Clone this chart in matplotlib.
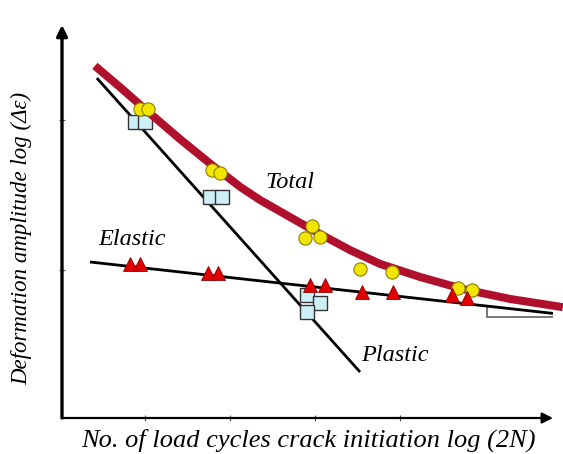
import matplotlib
matplotlib.use("Agg")
import matplotlib.pyplot as plt
from matplotlib.patches import Polygon

# Total strain curve (schematic, log-log units)
total_x = [0.67, 1.18, 1.69, 2.40, 3.08, 3.63, 4.03, 5.11, 5.87, 6.48, 7.29, 8.17, 9.12, 10.20]
total_y = [8.96, 8.42, 7.86, 7.10, 6.41, 5.88, 5.55, 4.78, 4.27, 3.92, 3.59, 3.28, 3.03, 2.82]

# Plastic and elastic straight lines (end points)
plastic_x = [0.71, 6.07]
plastic_y = [8.65, 1.17]
elastic_x = [0.57, 10.08]
elastic_y = [3.97, 2.65]

# Measured points
tot_pts_x = [1.59, 1.75, 3.05, 3.22, 5.09, 4.95, 5.25, 6.07, 6.72, 8.07, 8.35]
tot_pts_y = [7.86, 7.86, 6.31, 6.23, 4.89, 4.58, 4.61, 3.79, 3.72, 3.31, 3.26]
ela_pts_x = [1.38, 1.59, 2.97, 3.18, 5.05, 5.36, 6.11, 6.74, 7.94, 8.25]
ela_pts_y = [3.92, 3.92, 3.69, 3.69, 3.38, 3.38, 3.21, 3.21, 3.13, 3.05]
pla_pts_x = [1.49, 1.69, 3.01, 3.26, 4.99, 5.25, 4.99]
pla_pts_y = [7.53, 7.53, 5.62, 5.62, 3.13, 2.93, 2.70]

# Slope triangle under elastic line
tri_x = [8.66, 8.66, 10.08, 10.08]
tri_y = [2.85, 2.57, 2.57, 2.65]

xticks = [1.69, 3.42, 5.15, 6.88]
yticks = [3.77, 7.58]

labels = {"Total": (4.64, 5.98), "Elastic": (1.43, 4.53), "Plastic": (6.78, 1.60)}
xlabel = "No. of load cycles crack initiation log (2N)"
ylabel = "Deformation amplitude log (Δε)"

fig = plt.figure(figsize=(5.63, 4.54), dpi=100)
ax = fig.add_axes([62/563, 36/454, 491/563, 393/454])
ax.set_xlim(0, 10)
ax.set_ylim(0, 10)
for s in ax.spines.values():
    s.set_visible(False)

font = dict(family=["Liberation Serif", "DejaVu Serif"], style="italic")

# axes with arrows
ax.annotate("", xy=(1.0, 0), xytext=(0, 0), xycoords="axes fraction",
            arrowprops=dict(arrowstyle="-|>", lw=1.6, color="black", mutation_scale=16,
                            shrinkA=0, shrinkB=0))
ax.annotate("", xy=(0, 1.0), xytext=(0, 0), xycoords="axes fraction",
            arrowprops=dict(arrowstyle="-|>", lw=2.4, color="black", mutation_scale=16,
                            shrinkA=0, shrinkB=0))

ax.set_xticks(xticks)
ax.set_yticks(yticks)
ax.set_xticklabels([])
ax.set_yticklabels([])
ax.tick_params(axis="both", direction="inout", length=4, width=0.8, color="#555555")

ax.plot(plastic_x, plastic_y, color="black", lw=2.0, zorder=2, solid_capstyle="butt")
ax.plot(elastic_x, elastic_y, color="black", lw=2.0, zorder=2, solid_capstyle="butt")
ax.plot(total_x, total_y, color="#b0102c", lw=5.8, zorder=3, solid_capstyle="butt",
        solid_joinstyle="round", clip_on=False)

ax.add_patch(Polygon(list(zip(tri_x, tri_y)), closed=True, facecolor="white",
                     edgecolor="#606060", lw=1.2, zorder=1.5))

ax.plot(pla_pts_x, pla_pts_y, ls="none", marker="s", markersize=10,
        markerfacecolor="#cdeff6", markeredgecolor="#333333", markeredgewidth=1.0, zorder=2.5)
ax.plot(tot_pts_x, tot_pts_y, ls="none", marker="o", markersize=9.5,
        markerfacecolor="#f2e600", markeredgecolor="#8a7f00", markeredgewidth=0.8, zorder=4)
ax.plot(ela_pts_x, ela_pts_y, ls="none", marker="^", markersize=10.5,
        markerfacecolor="#e00000", markeredgecolor="#900000", markeredgewidth=0.6, zorder=4)

for txt, (x, y) in labels.items():
    ax.text(x, y, txt, ha="center", va="center", fontsize=17.5, **font)

fig.text(308/563, 1 - 440/454, xlabel, ha="center", va="center", fontsize=19, **font)
fig.text(22/563, 1 - 238/454, ylabel, ha="center", va="center", rotation=90, fontsize=16.5, **font)

fig.savefig("out.png", dpi=100)
